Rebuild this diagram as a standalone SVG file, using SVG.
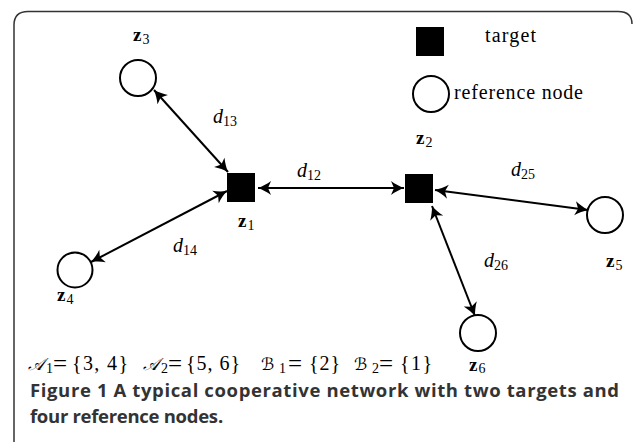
<svg xmlns="http://www.w3.org/2000/svg" width="636" height="443" viewBox="0 0 636 443">
<defs>
<marker id="arr" viewBox="-14 -8 16 16" refX="0" refY="0" markerWidth="16" markerHeight="16" markerUnits="userSpaceOnUse" orient="auto-start-reverse">
<path d="M0,0 C-4,-1.5 -9,-4 -13,-7 L-10,0 L-13,7 C-9,4 -4,1.5 0,0 Z" fill="#000"/>
</marker>
<style>
.edge{stroke:#000;stroke-width:2;fill:none;marker-start:url(#arr);marker-end:url(#arr)}
.ref{fill:#fff;stroke:#000;stroke-width:2}
.tgt{fill:#000}
.lbl{font-family:"Liberation Serif","DejaVu Serif",serif;font-size:20px;fill:#000}
.zb{font-family:"Liberation Serif","DejaVu Serif",serif;font-size:19px;font-weight:bold;fill:#000}
.di{font-family:"Liberation Serif","DejaVu Serif",serif;font-size:20px;font-style:italic;fill:#000}
.sub{font-family:"Liberation Serif","DejaVu Serif",serif;font-size:14px;font-style:normal;font-weight:normal;fill:#000}
.math{font-family:"Liberation Serif","DejaVu Serif",serif;font-size:20px;fill:#000}
.eq{font-family:"Liberation Serif","DejaVu Serif",serif;font-size:25px;fill:#000}
.cal{font-family:"DejaVu Serif","DejaVu Sans","Noto Sans",serif;font-size:17px;font-style:italic;fill:#000}
.cap{font-family:"Open Sans","Noto Sans",sans-serif;font-size:18.5px;font-weight:bold;fill:#333}
</style>
</defs>
<path d="M14,442 V25 Q14,11.5 28,11.5 H618 Q632,11.5 632,24" fill="none" stroke="#333" stroke-width="1.5"/>
<g id="connectors">
<line class="edge" x1="154" y1="90" x2="228" y2="172"/>
<line class="edge" x1="227" y1="191" x2="91" y2="262"/>
<line class="edge" x1="258" y1="188" x2="404" y2="188"/>
<line class="edge" x1="435" y1="190" x2="588" y2="210"/>
<line class="edge" x1="432" y1="206" x2="475" y2="316"/>
</g>
<g id="legend-target"><rect class="tgt" x="416" y="27" width="28" height="29"/><text class="lbl" x="485" y="42" textLength="51" lengthAdjust="spacing">target</text></g>
<g id="legend-reference"><circle class="ref" cx="431" cy="94" r="18"/><text class="lbl" x="454" y="99" textLength="129" lengthAdjust="spacing">reference node</text></g>
<g id="z1"><rect class="tgt" x="227" y="173" width="28" height="29"/><text class="zb" x="238" y="227">z<tspan class="sub" dx="1" dy="3">1</tspan></text></g>
<g id="z2"><rect class="tgt" x="405" y="174" width="28" height="29"/><text class="zb" x="416" y="144">z<tspan class="sub" dx="1" dy="3">2</tspan></text></g>
<g id="z3"><circle class="ref" cx="138" cy="78" r="18"/><text class="zb" x="133" y="41">z<tspan class="sub" dx="1" dy="3">3</tspan></text></g>
<g id="z4"><circle class="ref" cx="75" cy="270" r="17.5"/><text class="zb" x="57" y="301">z<tspan class="sub" dx="1" dy="3">4</tspan></text></g>
<g id="z5"><circle class="ref" cx="605" cy="215" r="18"/><text class="zb" x="606" y="267">z<tspan class="sub" dx="1" dy="3">5</tspan></text></g>
<g id="z6"><circle class="ref" cx="478" cy="333" r="18"/><text class="zb" x="469" y="371">z<tspan class="sub" dx="1" dy="2">6</tspan></text></g>
<g id="edge-labels">
<text class="di" x="213" y="123">d<tspan class="sub" dy="3">13</tspan></text>
<text class="di" x="297" y="177">d<tspan class="sub" dy="3">12</tspan></text>
<text class="di" x="511" y="176">d<tspan class="sub" dy="3">25</tspan></text>
<text class="di" x="173" y="252">d<tspan class="sub" dy="3">14</tspan></text>
<text class="di" x="484" y="267">d<tspan class="sub" dy="3">26</tspan></text>
</g>
<g id="sets">
<text class="cal" x="28" y="370">𝒜</text><text class="sub" x="46" y="373">1</text>
<text class="eq" x="53" y="372">=</text>
<text class="math" x="72" y="370" textLength="56" lengthAdjust="spacing">{3, 4}</text>
<text class="cal" x="143" y="370">𝒜</text><text class="sub" x="161" y="373">2</text>
<text class="eq" x="168" y="372">=</text>
<text class="math" x="186" y="370" textLength="54" lengthAdjust="spacing">{5, 6}</text>
<text class="cal" x="261" y="370" font-size="21">ℬ</text><text class="sub" x="279" y="373">1</text>
<text class="eq" x="288" y="372">=</text>
<text class="math" x="309" y="370" textLength="31" lengthAdjust="spacing">{2}</text>
<text class="cal" x="354" y="370" font-size="21">ℬ</text><text class="sub" x="372" y="373">2</text>
<text class="eq" x="379" y="372">=</text>
<text class="math" x="400" y="370" textLength="32" lengthAdjust="spacing">{1}</text>
</g>
<g id="caption">
<text class="cap" x="30" y="397" textLength="589" lengthAdjust="spacing">Figure 1 A typical cooperative network with two targets and</text>
<text class="cap" x="30" y="423" textLength="188" lengthAdjust="spacing">four reference nodes</text>
<text class="cap" x="218" y="423" font-weight="normal">.</text>
</g>
</svg>
